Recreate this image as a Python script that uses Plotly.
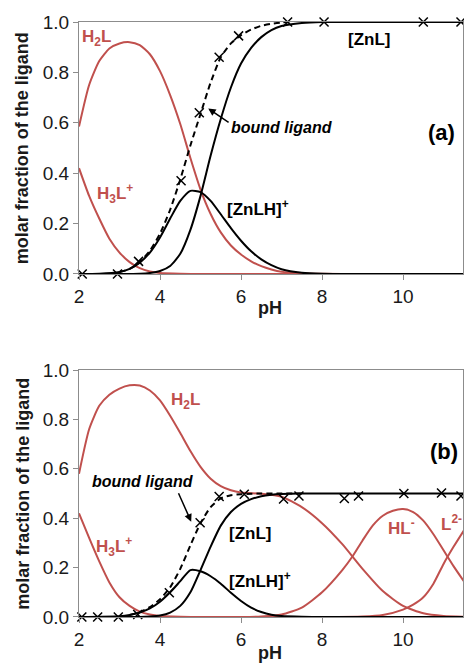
import plotly.graph_objects as go

# ---------------- Panel (a) data ----------------
h3l_a_ph = [2, 2.25, 2.5, 2.75, 3, 3.25, 3.5, 3.75, 4, 4.5, 5, 6, 8, 10, 11.5]
h3l_a = [0.42, 0.31, 0.22, 0.14, 0.085, 0.047, 0.023, 0.01, 0.004, 0.001, 0, 0, 0, 0, 0]

h2l_a_ph = [2, 2.25, 2.5, 2.75, 3, 3.25, 3.5, 3.75, 4, 4.25, 4.5, 4.75, 5, 5.25, 5.5, 5.75,
            6, 6.25, 6.5, 6.75, 7, 7.5, 8, 9, 10, 11.5]
h2l_a = [0.585, 0.75, 0.845, 0.895, 0.915, 0.92, 0.908, 0.872, 0.805, 0.71, 0.595, 0.46,
         0.335, 0.238, 0.165, 0.113, 0.077, 0.05, 0.031, 0.018, 0.009, 0.003, 0.001, 0, 0, 0]

znlh_a_ph = [2, 2.5, 3, 3.25, 3.5, 3.75, 4, 4.25, 4.5, 4.75, 5, 5.25, 5.5, 5.75, 6, 6.25,
             6.5, 6.75, 7, 7.5, 8, 9, 10, 11.5]
znlh_a = [0, 0.001, 0.008, 0.02, 0.045, 0.085, 0.145, 0.22, 0.29, 0.33, 0.325, 0.29, 0.237,
          0.182, 0.132, 0.09, 0.058, 0.035, 0.019, 0.005, 0.001, 0, 0, 0]

znl_a_ph = [2, 3, 3.5, 3.75, 4, 4.25, 4.5, 4.75, 5, 5.25, 5.5, 5.75, 6, 6.25, 6.5, 6.75, 7,
            7.5, 8, 9, 10, 11.5]
znl_a = [0, 0, 0.001, 0.004, 0.012, 0.032, 0.08, 0.175, 0.31, 0.47, 0.615, 0.74, 0.835,
         0.897, 0.94, 0.968, 0.984, 0.996, 1.0, 1.0, 1.0, 1.0]

bound_a_ph = [3, 3.25, 3.5, 3.75, 4, 4.25, 4.5, 4.75, 5, 5.25, 5.5, 5.75, 6, 6.25, 6.5,
              6.75, 7, 7.25]
bound_a = [0.008, 0.02, 0.048, 0.092, 0.16, 0.255, 0.375, 0.51, 0.635, 0.76, 0.86, 0.915,
           0.948, 0.97, 0.985, 0.993, 0.998, 1.0]

exp_a_ph = [2.08, 2.95, 3.47, 4.52, 4.97, 5.46, 5.94, 7.15, 8.05, 10.5, 11.43]
exp_a = [0, 0, 0.05, 0.37, 0.64, 0.86, 0.945, 1.0, 1.0, 1.0, 1.0]

# ---------------- Panel (b) data ----------------
h3l_b_ph = [2, 2.25, 2.5, 2.75, 3, 3.25, 3.5, 3.75, 4, 4.5, 5, 6, 8, 10, 11.5]
h3l_b = [0.42, 0.32, 0.225, 0.14, 0.08, 0.045, 0.022, 0.01, 0.004, 0.001, 0, 0, 0, 0, 0]

h2l_b_ph = [2, 2.25, 2.5, 2.75, 3, 3.25, 3.5, 3.75, 4, 4.25, 4.5, 4.75, 5, 5.25, 5.5, 5.75,
            6, 6.5, 7, 7.5, 8, 8.5, 9, 9.5, 10, 10.5, 11, 11.5]
h2l_b = [0.58, 0.76, 0.855, 0.9, 0.925, 0.938, 0.937, 0.917, 0.877, 0.815, 0.745, 0.672,
         0.608, 0.56, 0.53, 0.513, 0.504, 0.499, 0.487, 0.445, 0.38, 0.295, 0.195, 0.105,
         0.045, 0.015, 0.004, 0.001]

hl_b_ph = [2, 5, 6, 6.5, 7, 7.5, 8, 8.5, 8.75, 9, 9.25, 9.5, 9.75, 10, 10.25, 10.5, 10.75,
           11, 11.25, 11.5]
hl_b = [0, 0, 0, 0.002, 0.01, 0.038, 0.1, 0.19, 0.245, 0.31, 0.37, 0.41, 0.43, 0.437,
        0.425, 0.39, 0.335, 0.27, 0.205, 0.145]

l2_b_ph = [2, 8, 9, 9.5, 10, 10.25, 10.5, 10.75, 11, 11.25, 11.5]
l2_b = [0, 0, 0.002, 0.008, 0.03, 0.05, 0.08, 0.135, 0.215, 0.285, 0.35]

znlh_b_ph = [2, 3, 3.25, 3.5, 3.75, 4, 4.25, 4.5, 4.75, 5, 5.25, 5.5, 5.75, 6, 6.25, 6.5,
             6.75, 7, 7.5, 8, 9, 11.5]
znlh_b = [0, 0.003, 0.008, 0.018, 0.035, 0.062, 0.1, 0.145, 0.19, 0.185, 0.165, 0.135,
          0.098, 0.065, 0.038, 0.02, 0.009, 0.004, 0.001, 0, 0, 0]

znl_b_ph = [2, 3.5, 3.75, 4, 4.25, 4.5, 4.75, 5, 5.25, 5.5, 5.75, 6, 6.25, 6.5, 6.75, 7,
            7.5, 8, 9, 10, 11.5]
znl_b = [0, 0, 0.002, 0.006, 0.018, 0.045, 0.1, 0.19, 0.285, 0.37, 0.425, 0.458, 0.477,
         0.489, 0.495, 0.498, 0.5, 0.5, 0.5, 0.5, 0.5]

bound_b_ph = [3.25, 3.5, 3.75, 4, 4.25, 4.5, 4.75, 5, 5.25, 5.5, 5.75, 6, 6.25, 6.5, 7, 7.5]
bound_b = [0.008, 0.02, 0.04, 0.072, 0.12, 0.195, 0.29, 0.38, 0.445, 0.48, 0.493, 0.497,
           0.499, 0.5, 0.5, 0.5]

exp_b_ph = [2.07, 2.46, 2.97, 3.45, 4.23, 4.99, 5.46, 6.08, 7.05, 7.43, 8.55, 8.9, 10.02,
            10.95, 11.43]
exp_b = [0, 0, 0, 0.01, 0.098, 0.382, 0.488, 0.497, 0.478, 0.49, 0.48, 0.49, 0.5, 0.502, 0.49]

x_ticks = [2, 4, 6, 8, 10]
y_ticks = [0.0, 0.2, 0.4, 0.6, 0.8, 1.0]

RED = "#C0504D"
BLACK = "#000000"
FONT = "Liberation Sans, Arial, sans-serif"

fig = go.Figure()


def curve(x, y, color, xa, ya, dash="solid"):
    fig.add_trace(go.Scatter(
        x=x, y=y, mode="lines", xaxis=xa, yaxis=ya,
        line=dict(color=color, width=2, shape="spline", smoothing=0.6, dash=dash),
        hoverinfo="skip", showlegend=False))


def markers(x, y, xa, ya):
    fig.add_trace(go.Scatter(
        x=x, y=y, mode="markers", xaxis=xa, yaxis=ya, cliponaxis=False,
        marker=dict(symbol="x-thin", size=9, color=BLACK,
                    line=dict(color=BLACK, width=1.5)),
        showlegend=False))


# panel (a)
curve(h3l_a_ph, h3l_a, RED, "x", "y")
curve(h2l_a_ph, h2l_a, RED, "x", "y")
curve(znlh_a_ph, znlh_a, BLACK, "x", "y")
curve(znl_a_ph, znl_a, BLACK, "x", "y")
curve(bound_a_ph, bound_a, BLACK, "x", "y", dash="6px,4px")
markers(exp_a_ph, exp_a, "x", "y")

# panel (b)
curve(h3l_b_ph, h3l_b, RED, "x2", "y2")
curve(h2l_b_ph, h2l_b, RED, "x2", "y2")
curve(hl_b_ph, hl_b, RED, "x2", "y2")
curve(l2_b_ph, l2_b, RED, "x2", "y2")
curve(znlh_b_ph, znlh_b, BLACK, "x2", "y2")
curve(znl_b_ph, znl_b, BLACK, "x2", "y2")
curve(bound_b_ph, bound_b, BLACK, "x2", "y2", dash="6px,4px")
markers(exp_b_ph, exp_b, "x2", "y2")

axis_common = dict(
    showline=True, mirror=True, linecolor="#8C8C8C", linewidth=1,
    ticks="outside", ticklen=5, tickcolor="#8C8C8C", tickwidth=1,
    showgrid=False, zeroline=False,
    tickfont=dict(family=FONT, size=19, color="#1a1a1a"),
)

xr = [2, 11.48]
fig.update_layout(
    width=464, height=663,
    margin=dict(l=79, r=1, t=22, b=46),
    paper_bgcolor="white", plot_bgcolor="white",
    font=dict(family=FONT),
    xaxis=dict(domain=[0, 1], range=xr, anchor="y", tickvals=x_ticks, **axis_common),
    yaxis=dict(domain=[0.5765, 1], range=[0, 1], anchor="x", tickvals=y_ticks,
               tickformat=".1f", **axis_common),
    xaxis2=dict(domain=[0, 1], range=xr, anchor="y2", tickvals=x_ticks, **axis_common),
    yaxis2=dict(domain=[0, 0.4151], range=[0, 1], anchor="x2", tickvals=y_ticks,
                tickformat=".1f", **axis_common),
)


def label(text, x, y, xa, ya, color=BLACK, size=17, italic=False):
    t = f"<b>{text}</b>"
    if italic:
        t = f"<i>{t}</i>"
    fig.add_annotation(text=t, x=x, y=y, xref=xa, yref=ya, showarrow=False,
                       font=dict(family=FONT, size=size, color=color),
                       xanchor="center", yanchor="middle")


# labels panel (a)
label("H<sub>2</sub>L", 2.43, 0.936, "x", "y", RED)
label("H<sub>3</sub>L<sup>+</sup>", 2.89, 0.32, "x", "y", RED)
label("[ZnL]", 9.17, 0.93, "x", "y")
label("bound ligand", 7.02, 0.583, "x", "y", size=16, italic=True)
label("[ZnLH]<sup>+</sup>", 6.42, 0.262, "x", "y")
label("(a)", 10.96, 0.56, "x", "y", size=22)
fig.add_annotation(x=5.19, y=0.657, ax=5.73, ay=0.598, xref="x", yref="y",
                   axref="x", ayref="y", text="", showarrow=True, arrowhead=2,
                   arrowsize=1, arrowwidth=1.5, arrowcolor=BLACK)

# labels panel (b)
label("H<sub>2</sub>L", 4.64, 0.876, "x2", "y2", RED)
label("bound ligand", 3.58, 0.55, "x2", "y2", size=16, italic=True)
label("H<sub>3</sub>L<sup>+</sup>", 2.87, 0.285, "x2", "y2", RED)
label("[ZnL]", 6.22, 0.34, "x2", "y2")
label("[ZnLH]<sup>+</sup>", 6.47, 0.15, "x2", "y2")
label("HL<sup>-</sup>", 9.95, 0.365, "x2", "y2", RED)
label("L<sup>2-</sup>", 11.19, 0.38, "x2", "y2", RED)
label("(b)", 11.02, 0.67, "x2", "y2", size=22)
fig.add_annotation(x=4.77, y=0.386, ax=4.44, ay=0.507, xref="x2", yref="y2",
                   axref="x2", ayref="y2", text="", showarrow=True, arrowhead=2,
                   arrowsize=1, arrowwidth=1.5, arrowcolor=BLACK)

# axis titles
for xref_, yref, ypos in (("x", "y domain", -0.135), ("x2", "y2 domain", -0.146)):
    fig.add_annotation(text="<b>pH</b>", x=6.72, y=ypos, xref=xref_, yref=yref,
                       showarrow=False, font=dict(family=FONT, size=18, color="#1a1a1a"),
                       xanchor="center", yanchor="middle")
for yref in ("y domain", "y2 domain"):
    fig.add_annotation(text="<b>molar fraction of the ligand</b>", x=-0.148, y=0.5,
                       xref="paper", yref=yref, textangle=-90, showarrow=False,
                       font=dict(family=FONT, size=18, color="#1a1a1a"),
                       xanchor="center", yanchor="middle")

fig.write_html("out.html")
